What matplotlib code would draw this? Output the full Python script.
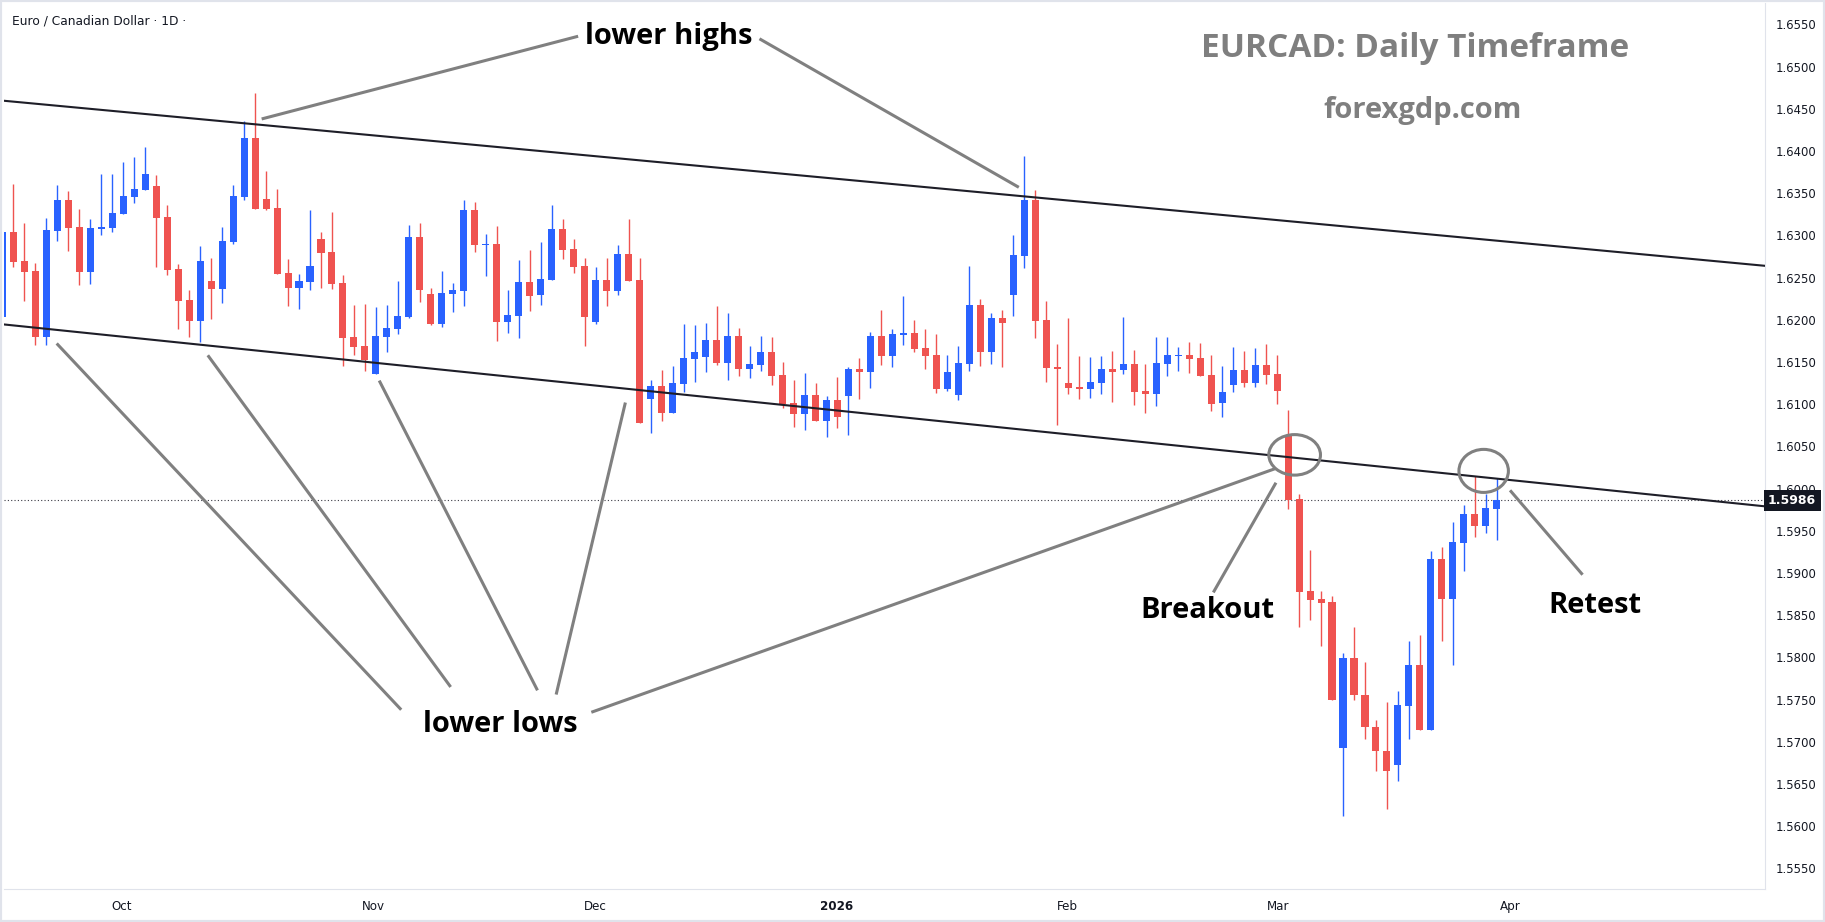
import matplotlib
matplotlib.use("Agg")
import matplotlib.pyplot as plt
import matplotlib.transforms as mtransforms
from matplotlib.patches import Ellipse, Rectangle
import numpy as np

# EURCAD daily candles, one per trading day (index 0 = mid Sep 2025)
opens = [1.6203, 1.6304, 1.6270, 1.6258, 1.6180, 1.6305, 1.6342, 1.6310, 1.6257, 1.6308,
         1.6309, 1.6325, 1.6346, 1.6354, 1.6359, 1.6322, 1.6260, 1.6223, 1.6199, 1.6246,
         1.6236, 1.6292, 1.6346, 1.6415, 1.6343, 1.6332, 1.6255, 1.6238, 1.6245, 1.6296,
         1.6280, 1.6244, 1.6180, 1.6169, 1.6136, 1.6180, 1.6189, 1.6203, 1.6298, 1.6231,
         1.6195, 1.6231, 1.6234, 1.6330, 1.6289, 1.6290, 1.6197, 1.6204, 1.6245, 1.6229,
         1.6247, 1.6308, 1.6284, 1.6264, 1.6197, 1.6247, 1.6234, 1.6278, 1.6247, 1.6106,
         1.6122, 1.6090, 1.6124, 1.6154, 1.6156, 1.6176, 1.6149, 1.6181, 1.6142, 1.6146,
         1.6162, 1.6135, 1.6101, 1.6088, 1.6111, 1.6080, 1.6105, 1.6110, 1.6142, 1.6138,
         1.6181, 1.6157, 1.6182, 1.6184, 1.6167, 1.6158, 1.6118, 1.6111, 1.6148, 1.6218,
         1.6162, 1.6202, 1.6229, 1.6276, 1.6342, 1.6200, 1.6144, 1.6125, 1.6120, 1.6118,
         1.6125, 1.6142, 1.6141, 1.6148, 1.6116, 1.6112, 1.6148, 1.6157, 1.6158, 1.6155,
         1.6135, 1.6101, 1.6123, 1.6140, 1.6125, 1.6146, 1.6136, 1.6063, 1.5988, 1.5879,
         1.5869, 1.5866, 1.5693, 1.5799, 1.5756, 1.5718, 1.5689, 1.5673, 1.5743, 1.5791,
         1.5714, 1.5917, 1.5869, 1.5936, 1.5970, 1.5956, 1.5976]
highs = [1.6304, 1.6361, 1.6315, 1.6267, 1.6321, 1.6360, 1.6353, 1.6331, 1.6319, 1.6373,
         1.6373, 1.6387, 1.6393, 1.6405, 1.6372, 1.6336, 1.6266, 1.6235, 1.6287, 1.6273,
         1.6310, 1.6360, 1.6436, 1.6469, 1.6376, 1.6355, 1.6272, 1.6254, 1.6330, 1.6304,
         1.6328, 1.6253, 1.6218, 1.6219, 1.6215, 1.6218, 1.6246, 1.6312, 1.6315, 1.6238,
         1.6258, 1.6244, 1.6342, 1.6340, 1.6302, 1.6311, 1.6235, 1.6271, 1.6283, 1.6292,
         1.6336, 1.6319, 1.6296, 1.6273, 1.6263, 1.6273, 1.6289, 1.6319, 1.6273, 1.6129,
         1.6141, 1.6145, 1.6195, 1.6194, 1.6196, 1.6216, 1.6208, 1.6190, 1.6169, 1.6181,
         1.6180, 1.6150, 1.6129, 1.6137, 1.6125, 1.6110, 1.6132, 1.6144, 1.6155, 1.6186,
         1.6212, 1.6189, 1.6228, 1.6200, 1.6189, 1.6183, 1.6158, 1.6169, 1.6264, 1.6225,
         1.6208, 1.6212, 1.6301, 1.6394, 1.6354, 1.6222, 1.6171, 1.6202, 1.6157, 1.6156,
         1.6157, 1.6163, 1.6203, 1.6164, 1.6148, 1.6180, 1.6180, 1.6168, 1.6174, 1.6173,
         1.6158, 1.6145, 1.6168, 1.6163, 1.6167, 1.6171, 1.6158, 1.6093, 1.5994, 1.5927,
         1.5879, 1.5873, 1.5805, 1.5836, 1.5794, 1.5726, 1.5747, 1.5760, 1.5819, 1.5827,
         1.5926, 1.5931, 1.5960, 1.5980, 1.6015, 1.5994, 1.6013]
lows = [1.6203, 1.6263, 1.6222, 1.6170, 1.6170, 1.6293, 1.6282, 1.6241, 1.6242, 1.6300,
        1.6304, 1.6325, 1.6338, 1.6354, 1.6263, 1.6253, 1.6189, 1.6180, 1.6174, 1.6201,
        1.6220, 1.6290, 1.6342, 1.6331, 1.6330, 1.6254, 1.6216, 1.6213, 1.6235, 1.6238,
        1.6236, 1.6145, 1.6158, 1.6139, 1.6136, 1.6162, 1.6183, 1.6202, 1.6221, 1.6194,
        1.6191, 1.6209, 1.6216, 1.6280, 1.6252, 1.6175, 1.6184, 1.6178, 1.6210, 1.6218,
        1.6247, 1.6272, 1.6255, 1.6169, 1.6195, 1.6216, 1.6229, 1.6246, 1.6078, 1.6066,
        1.6080, 1.6090, 1.6114, 1.6126, 1.6138, 1.6146, 1.6129, 1.6133, 1.6131, 1.6139,
        1.6123, 1.6096, 1.6073, 1.6069, 1.6080, 1.6061, 1.6072, 1.6064, 1.6106, 1.6119,
        1.6146, 1.6144, 1.6170, 1.6162, 1.6142, 1.6113, 1.6116, 1.6105, 1.6139, 1.6145,
        1.6148, 1.6144, 1.6205, 1.6261, 1.6178, 1.6126, 1.6075, 1.6112, 1.6106, 1.6107,
        1.6112, 1.6103, 1.6136, 1.6099, 1.6090, 1.6098, 1.6133, 1.6139, 1.6137, 1.6133,
        1.6092, 1.6085, 1.6115, 1.6121, 1.6121, 1.6124, 1.6100, 1.5976, 1.5836, 1.5844,
        1.5813, 1.5749, 1.5612, 1.5750, 1.5703, 1.5666, 1.5620, 1.5654, 1.5703, 1.5714,
        1.5714, 1.5819, 1.5791, 1.5902, 1.5943, 1.5947, 1.5939]
closes = [1.6304, 1.6268, 1.6257, 1.6180, 1.6306, 1.6342, 1.6309, 1.6257, 1.6309, 1.6310,
          1.6327, 1.6347, 1.6355, 1.6373, 1.6321, 1.6259, 1.6222, 1.6199, 1.6270, 1.6236,
          1.6293, 1.6347, 1.6415, 1.6331, 1.6331, 1.6254, 1.6238, 1.6246, 1.6264, 1.6279,
          1.6242, 1.6178, 1.6168, 1.6152, 1.6181, 1.6190, 1.6204, 1.6298, 1.6235, 1.6195,
          1.6232, 1.6235, 1.6330, 1.6289, 1.6290, 1.6197, 1.6206, 1.6245, 1.6228, 1.6248,
          1.6308, 1.6283, 1.6263, 1.6203, 1.6247, 1.6234, 1.6278, 1.6246, 1.6078, 1.6122,
          1.6090, 1.6125, 1.6155, 1.6162, 1.6176, 1.6149, 1.6181, 1.6142, 1.6148, 1.6162,
          1.6133, 1.6100, 1.6088, 1.6111, 1.6080, 1.6105, 1.6085, 1.6142, 1.6138, 1.6181,
          1.6157, 1.6183, 1.6184, 1.6165, 1.6157, 1.6118, 1.6138, 1.6149, 1.6218, 1.6162,
          1.6202, 1.6196, 1.6277, 1.6342, 1.6199, 1.6143, 1.6142, 1.6119, 1.6118, 1.6126,
          1.6142, 1.6138, 1.6148, 1.6114, 1.6112, 1.6149, 1.6158, 1.6158, 1.6154, 1.6133,
          1.6100, 1.6115, 1.6140, 1.6125, 1.6146, 1.6135, 1.6116, 1.5987, 1.5878, 1.5868,
          1.5865, 1.5749, 1.5799, 1.5756, 1.5718, 1.5689, 1.5665, 1.5744, 1.5791, 1.5714,
          1.5917, 1.5869, 1.5937, 1.5970, 1.5956, 1.5977, 1.5986]

month_labels = ["Oct", "Nov", "Dec", "2026", "Feb", "Mar", "Apr"]
month_pos = [10.9, 33.8, 54.0, 75.9, 96.9, 116.1, 137.2]
last_price = 1.5986

# drawings (bar index, price)
upper_channel = [(-0.2, 1.6460), (160.4, 1.6264)]
lower_channel = [(-0.2, 1.6195), (160.4, 1.5979)]
pointer_lines = [
    [(52.4, 1.6536), (23.6, 1.6438)],   # lower highs
    [(68.9, 1.6533), (92.5, 1.6357)],
    [(36.3, 1.5738), (4.95, 1.6172)],   # lower lows
    [(40.8, 1.5765), (18.7, 1.6158)],
    [(48.7, 1.5761), (34.3, 1.6128)],
    [(50.4, 1.5756), (56.7, 1.6102)],
    [(53.6, 1.5735), (115.9, 1.6024)],
    [(110.2, 1.5877), (115.9, 1.6007)],  # breakout
    [(143.8, 1.5898), (137.2, 1.5998)],  # retest
]
circles = [(117.6, 1.6040, 4.7, 0.0048), (134.8, 1.6021, 4.5, 0.0051)]

W, H = 1825, 922
fig = plt.figure(figsize=(W / 100, H / 100), dpi=100, facecolor="white")
ax = fig.add_axes([3.5 / W, (H - 889) / H, (1765 - 3.5) / W, (889 - 3) / H])
ax.set_xlim(0.11, 160.4)
ax.set_ylim(1.55256, 1.65754)

up_col, down_col = "#2962FF", "#EF5350"
x = np.arange(len(opens))
o = np.array(opens)
c = np.array(closes)
cols = [up_col if cc >= oo else down_col for oo, cc in zip(o, c)]
body_lo = np.minimum(o, c)
body_h = np.maximum(np.abs(c - o), 0.00012)

ax.vlines(x, lows, highs, colors=cols, linewidth=1.0, zorder=3)
ax.bar(x, body_h, bottom=body_lo, width=0.64, color=cols, linewidth=0, zorder=4)

# channel
for seg in (upper_channel, lower_channel):
    ax.plot([seg[0][0], seg[1][0]], [seg[0][1], seg[1][1]], color="#1e1e28", lw=1.5, zorder=5)

ax.axhline(last_price, color="#3a3a44", lw=0.8, ls=(0, (1, 2)), zorder=2)

for seg in pointer_lines:
    ax.plot([seg[0][0], seg[1][0]], [seg[0][1], seg[1][1]], color="#808080", lw=2.2,
            solid_capstyle="butt", zorder=6)
for cx, cy, w, h in circles:
    ax.add_patch(Ellipse((cx, cy), w, h, fill=False, ec="#808080", lw=2.2, zorder=6))

bold = dict(family=["Open Sans", "DejaVu Sans"], fontweight="bold")
ax.text(60.6, 1.6536, "lower highs", fontsize=21, color="black", ha="center", va="center", **bold)
ax.text(45.3, 1.5721, "lower lows", fontsize=21, color="black", ha="center", va="center", **bold)
ax.text(109.7, 1.5855, "Breakout", fontsize=21, color="black", ha="center", va="center", **bold)
ax.text(144.9, 1.5862, "Retest", fontsize=21, color="black", ha="center", va="center", **bold)
ax.text(128.6, 1.6521, "EURCAD: Daily Timeframe", fontsize=24, color="#7f7f7f",
        ha="center", va="center", **bold)
ax.text(129.2, 1.6448, "forexgdp.com", fontsize=21, color="#7f7f7f",
        ha="center", va="center", **bold)

fig.text(11.5 / W, 1 - 21 / H, "Euro / Canadian Dollar \u00b7 1D \u00b7", fontsize=8.8,
         color="#131722", ha="left", va="center")

# axes styling
for s in ("top", "left"):
    ax.spines[s].set_visible(False)
ax.spines["right"].set_color("#e0e3eb")
ax.spines["bottom"].set_color("#e0e3eb")
ax.yaxis.tick_right()
yt = np.arange(1.555, 1.6551, 0.005)
ax.set_yticks(yt)
ax.set_yticklabels([f"{v:.4f}" for v in yt])
ax.tick_params(axis="y", length=0, pad=7.5, labelsize=8.4, labelcolor="#131722")
ax.set_xticks(month_pos)
ax.set_xticklabels(month_labels)
ax.tick_params(axis="x", length=0, pad=8, labelsize=8.6, labelcolor="#131722")
for lbl in ax.get_xticklabels():
    if lbl.get_text() == "2026":
        lbl.set_fontweight("bold")

tr = mtransforms.blended_transform_factory(ax.transAxes, ax.transData)
ax.text(1.0 + 3 / 1761, last_price, f"{last_price:.4f}", transform=tr, fontsize=9,
        fontweight="bold", color="white", ha="left", va="center", clip_on=False, zorder=20,
        bbox=dict(boxstyle="square,pad=0.35", fc="#131722", ec="none"))

fig.add_artist(Rectangle((0, 0), 1, 1, transform=fig.transFigure, fill=False,
                         ec="#e0e3eb", lw=3))

fig.savefig("out.png", dpi=100, facecolor="white")
